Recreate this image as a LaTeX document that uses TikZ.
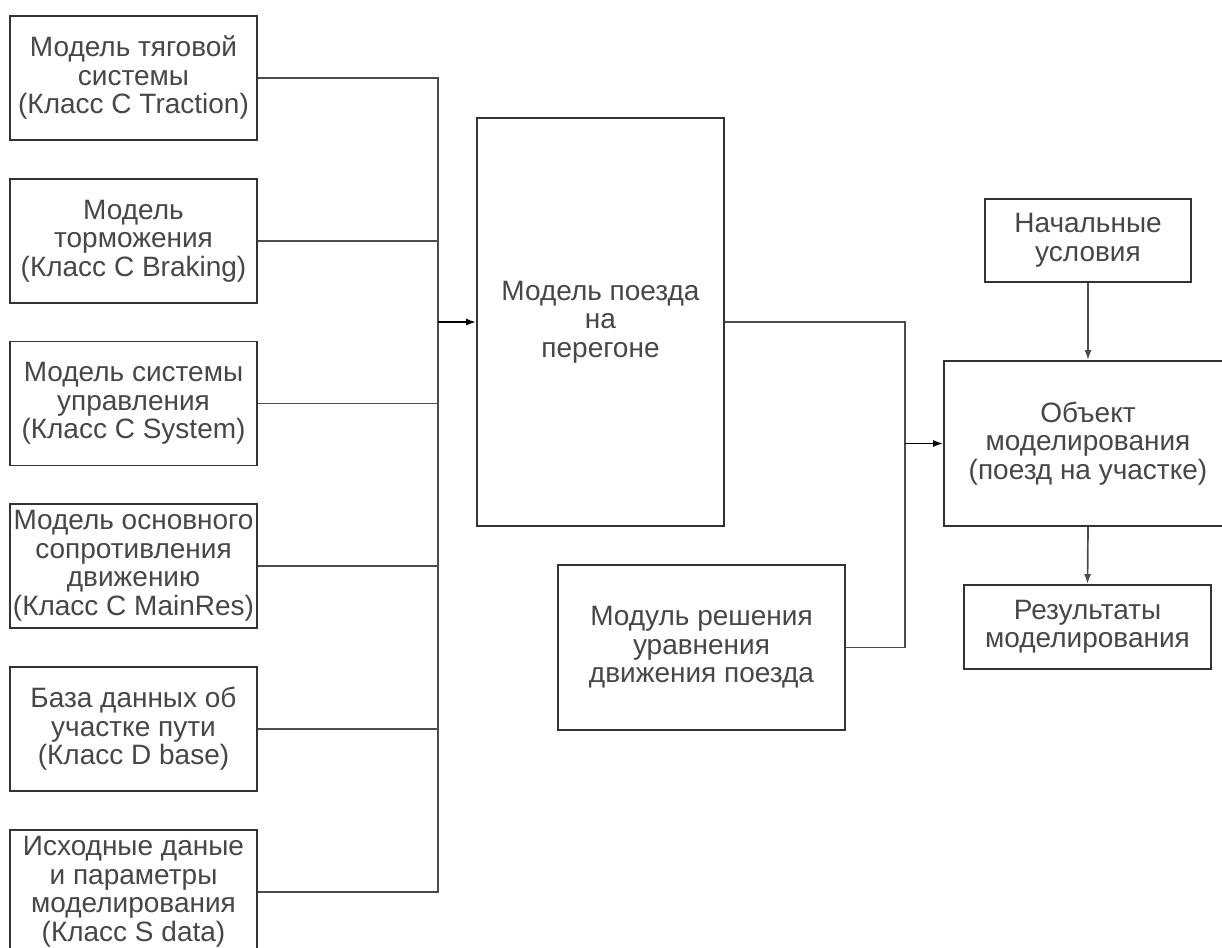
\documentclass[tikz,border=0pt]{standalone}
\usepackage{fontspec}
\setmainfont{Liberation Sans}
\usetikzlibrary{arrows.meta}
\tikzset{
  blk/.style={draw=black!80, line width=1.8pt, fill=white, align=center,
    inner sep=0pt, text=black!72,
    font=\fontsize{28}{28.5}\selectfont},
  wire/.style={draw=black!70, line width=1.7pt},
  arr/.style={wire, -{Latex[length=10pt,width=7pt]}}
}
\begin{document}
\begin{tikzpicture}[x=1pt,y=-1pt]
\useasboundingbox (0,0) rectangle (1222,947);
\fill[white] (0,0) rectangle (1222,947);

% input models on the left
\node[blk, minimum width=247pt, minimum height=124pt] (b1) at (133.5,78)
  {Модель тяговой\\системы\\(Класс C Traction)};
\node[blk, minimum width=247pt, minimum height=124pt] (b2) at (133.5,241)
  {Модель\\торможения\\(Класс C Braking)};
\node[blk, minimum width=247pt, minimum height=124pt] (b3) at (133.5,403.5)
  {Модель системы\\управления\\(Класс C System)};
\node[blk, minimum width=247pt, minimum height=124pt] (b4) at (133.5,566)
  {Модель основного\\сопротивления\\движению\\(Класс C MainRes)};
\node[blk, minimum width=247pt, minimum height=124pt] (b5) at (133.5,729)
  {База данных об\\участке пути\\(Класс D base)};
\node[blk, minimum width=247pt, minimum height=124pt] (b6) at (133.5,892)
  {Исходные даные\\и параметры\\моделирования\\(Класс S data)};

% central blocks
\node[blk, minimum width=247pt, minimum height=408pt] (train) at (600.5,322)
  {Модель поезда\\на\\перегоне};
\node[blk, minimum width=287pt, minimum height=165pt] (solver) at (701.5,647.5)
  {Модуль решения\\уравнения\\движения поезда};

% right column
\node[blk, minimum width=206pt, minimum height=83pt] (init) at (1088,240.5)
  {Начальные\\условия};
\node[blk, minimum width=288pt, minimum height=165pt] (obj) at (1088,443.5)
  {Объект\\моделирования\\(поезд на участке)};
\node[blk, minimum width=247pt, minimum height=84pt] (res) at (1087.5,627)
  {Результаты\\моделирования};

% collecting bus on the left
\coordinate (busIn) at (438,322);
\foreach \b in {b1,b2,b3,b4,b5,b6}
  \draw[wire] (\b.east) -| (busIn);
\draw[arr, draw=black] (busIn) -- (train.west);

% junction in front of the modelled object
\coordinate (join) at (905,443.5);
\draw[wire] (train.east) -| (join);
\draw[wire] (solver.east) -| (join);
\draw[arr, draw=black] (join) -- (obj.west);

\draw[arr] (init.south) -- (obj.north);
\draw[arr] (obj.south) -- (res.north);
\end{tikzpicture}
\end{document}
